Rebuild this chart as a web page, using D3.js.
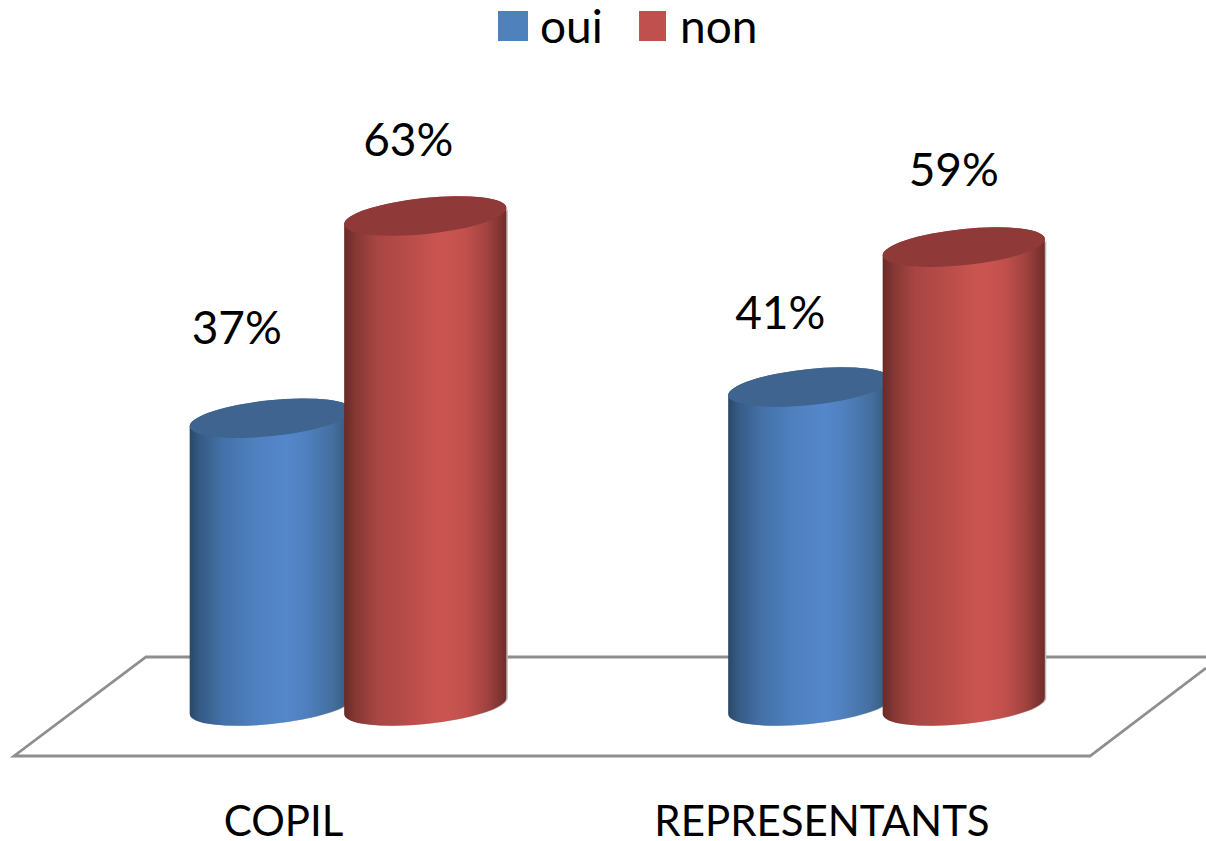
<!DOCTYPE html>
<html><head><meta charset="utf-8">
<script src="https://cdn.jsdelivr.net/npm/d3@7/dist/d3.min.js"></script>
<style>html,body{margin:0;padding:0;background:#fff;overflow:hidden}svg{display:block}text{font-family:Lato,"Open Sans",sans-serif;fill:#000}</style>
</head><body>
<script>
const categories = ["COPIL", "REPRESENTANTS"];
const seriesNames = ["oui", "non"];
const oui = [37, 41];
const non = [63, 59];
const labelShiftX = {oui: [-34, -29], non: [-17, -10]};
const labelShiftY = {oui: [-74, -58], non: [-60, -61]};

const W = 1206, H = 841, rx = 81.5, ry = 18, tilt = -6;
const svg = d3.select("body").append("svg").attr("width", W).attr("height", H);
const defs = svg.append("defs");
function grad(id, stops){
  const g = defs.append("linearGradient").attr("id", id).attr("x1", 0).attr("x2", 1).attr("y1", 0).attr("y2", 0);
  stops.forEach(([o, c]) => g.append("stop").attr("offset", o).attr("stop-color", c));
}
grad("g-oui", [[0,"#294868"],[.06,"#355a84"],[.2,"#4371a7"],[.4,"#4f80bf"],[.6,"#5487cb"],[.72,"#4f7fbd"],[.88,"#446f9f"],[1,"#335679"]]);
grad("g-non", [[0,"#682a28"],[.07,"#863734"],[.2,"#a74644"],[.4,"#b94d49"],[.6,"#cc5551"],[.75,"#c1504c"],[.88,"#a14340"],[1,"#6f2d2b"]]);
const topFill = {oui: "#3e648f", non: "#8f3a39"};
const swatch = {oui: "#4f81bd", non: "#c0504d"};

const x0 = d3.scalePoint().domain(categories).range([348, 886.5]);
const x1 = d3.scalePoint().domain(seriesNames).range([-77.25, 77.25]);
const y = d3.scaleLinear().domain([0, 63]).range([706, 216]);

// floor
const floorLine = d3.line();
const floorG = svg.append("g").attr("fill","none").attr("stroke","#8e8e8e").attr("stroke-width",2.8);
floorG.append("path").attr("d", floorLine([[1206,657],[146,657],[14,756],[1090,756],[1206,668]]));

// cylinders
const t = tilt*Math.PI/180;
const ex = Math.hypot(rx*Math.cos(t), ry*Math.sin(t));      // half width of tilted ellipse
const ey = (rx*rx-ry*ry)*Math.sin(t)*Math.cos(t)/ex;        // y offset of its right extreme
function bodyPath(cx, yTop, yBot, sweep){
  return `M${cx-ex},${yTop-ey}L${cx-ex},${yBot-ey}`+
         `A${rx},${ry} ${tilt} 0 0 ${cx+ex},${yBot+ey}`+
         `L${cx+ex},${yTop+ey}`+
         `A${rx},${ry} ${tilt} 0 ${sweep} ${cx-ex},${yTop-ey}Z`;
}
const rows = categories.flatMap((c,i)=>[
  {c,i,s:"oui",v:oui[i]},{c,i,s:"non",v:non[i]}]);
const bars = svg.append("g").selectAll("g").data(rows).join("g");
bars.append("path")
  .attr("transform","translate(1.5,0)").attr("fill","#bdbdbd")
  .attr("d",d=>bodyPath(x0(d.c)+x1(d.s),y(d.v),y(0),1));
bars.append("path")
  .attr("fill",d=>`url(#g-${d.s})`)
  .attr("d",d=>bodyPath(x0(d.c)+x1(d.s),y(d.v),y(0),0));
bars.append("ellipse")
  .attr("rx",rx).attr("ry",ry).attr("fill",d=>topFill[d.s])
  .attr("transform",d=>`translate(${x0(d.c)+x1(d.s)},${y(d.v)}) rotate(${tilt})`);

// value labels
svg.append("g").selectAll("text").data(rows).join("text")
  .attr("text-anchor","middle").attr("font-size",46)
  .attr("x",d=>x0(d.c)+x1(d.s)+labelShiftX[d.s][d.i])
  .attr("y",d=>y(d.v)+labelShiftY[d.s][d.i])
  .text(d=>d.v+"%");

// category axis
const axis = d3.axisBottom(x0).tickSize(0).tickPadding(0);
const ax = svg.append("g").attr("transform","translate(-65,800)").call(axis);
ax.select(".domain").remove();
ax.selectAll("text").attr("font-size",42).attr("font-family",null).attr("y",0).attr("dy",36);
ax.attr("font-family",null).attr("font-size",null);

// legend
const lx = d3.scaleOrdinal().domain(seriesNames).range([498,639]);
const lw = d3.scaleOrdinal().domain(seriesNames).range([30,27]);
const ltx = d3.scaleOrdinal().domain(seriesNames).range([540,680]);
const leg = svg.append("g").selectAll("g").data(seriesNames).join("g");
leg.append("rect").attr("x",d=>lx(d)).attr("y",11).attr("width",d=>lw(d)).attr("height",30).attr("fill",d=>swatch[d]);
leg.append("text").attr("x",d=>ltx(d)).attr("y",43).attr("font-size",46).text(d=>d);
</script>
</body></html>
